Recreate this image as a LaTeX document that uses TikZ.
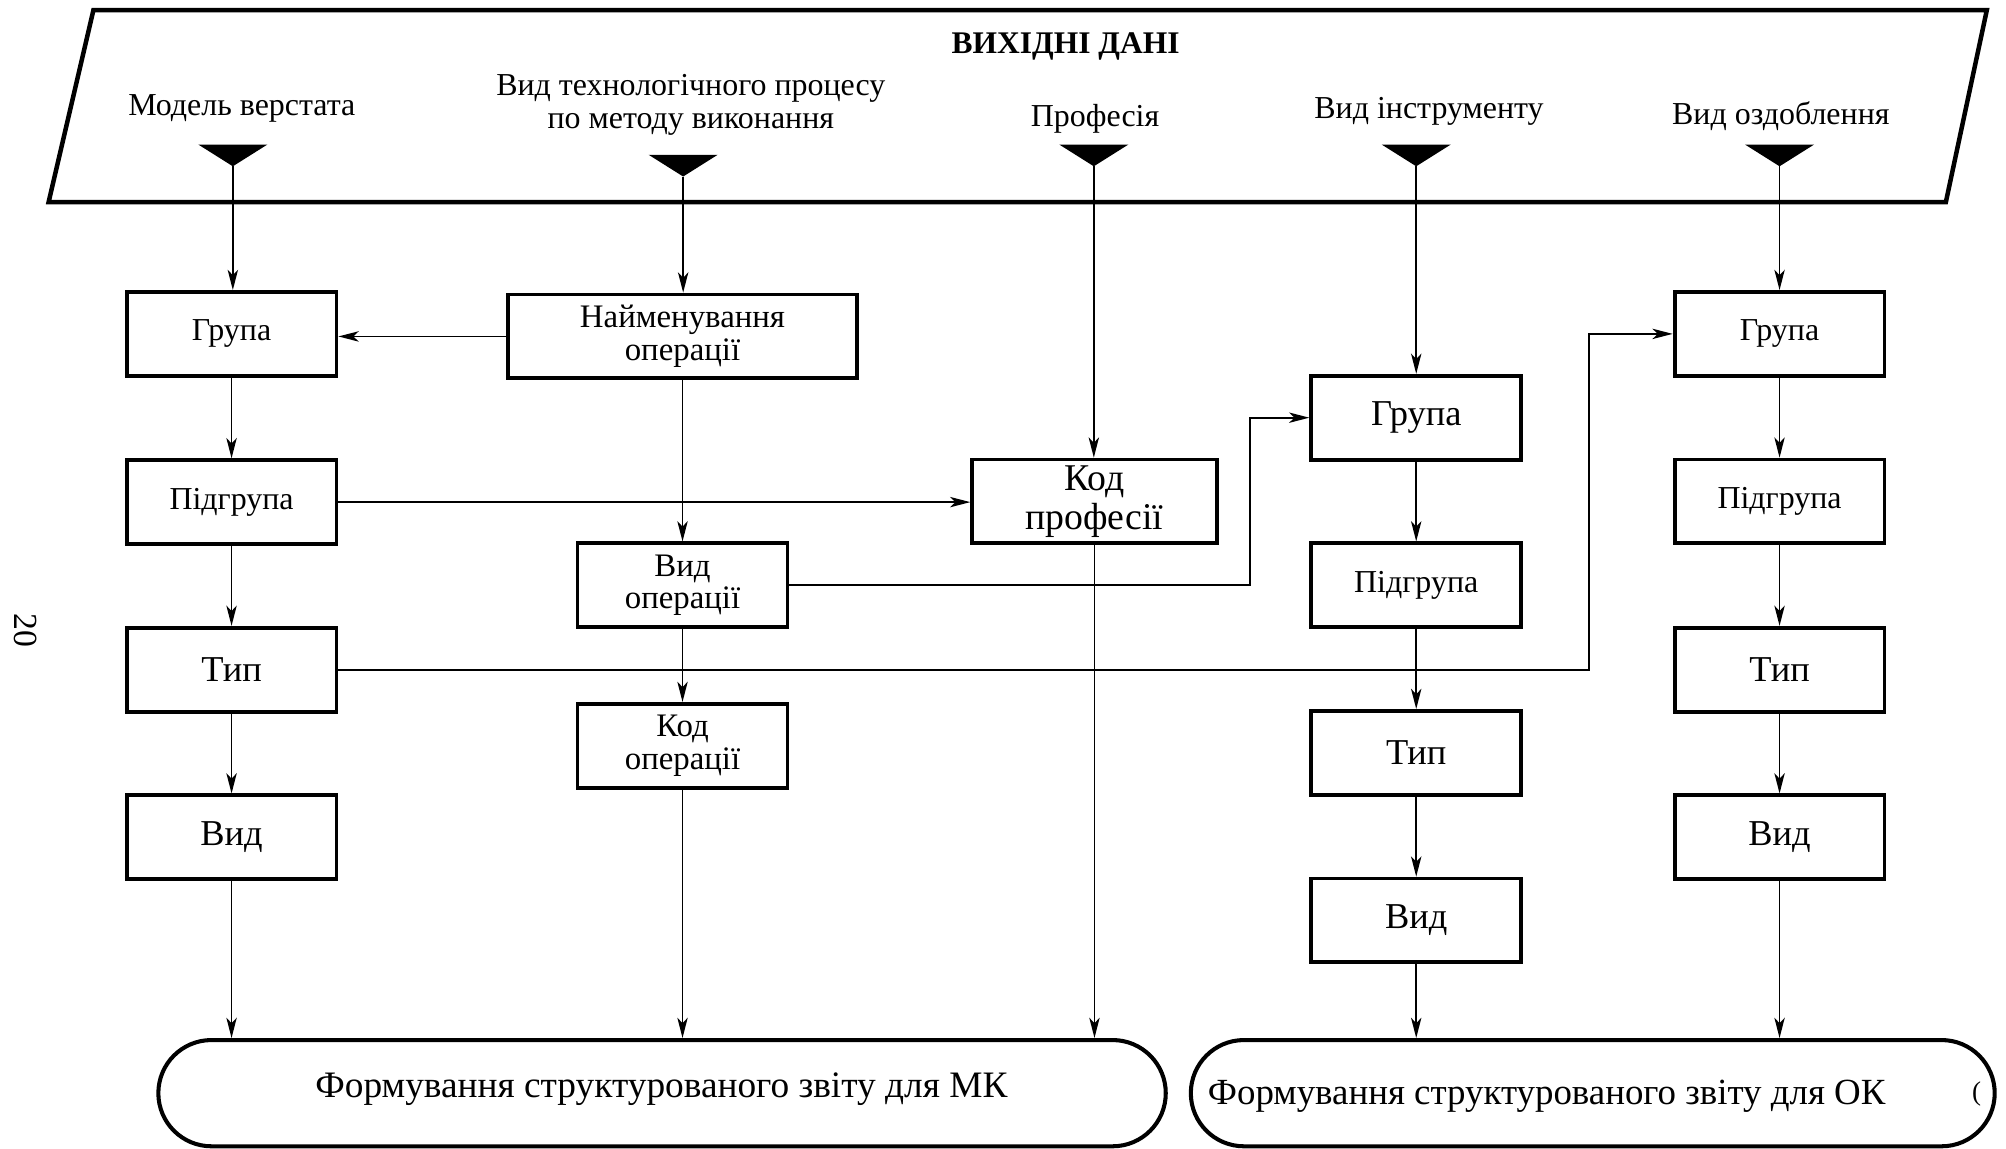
\documentclass[tikz,border=0pt]{standalone}
\usepackage{fontspec}
\setmainfont{Liberation Serif}
\usetikzlibrary{arrows.meta}
\begin{document}
\begin{tikzpicture}[x=0.01cm,y=-0.01cm,
  every node/.style={font=\fontsize{7.1}{7.2}\selectfont,align=center,inner sep=0pt},
  blk/.style={draw,line width=0.85pt,minimum width=1.64cm,minimum height=0.655cm},
  big/.style={font=\fontsize{8.1}{8.8}\selectfont},
  rep/.style={draw,line width=0.9pt,rounded corners=0.415cm,minimum height=0.83cm},
  arr/.style={-{Stealth[length=4.5pt,width=2.3pt,inset=1.2pt]},line width=0.4pt}]
\useasboundingbox (0,0) rectangle (1568,898);
\draw[line width=1pt] (73,8) -- (1553,8) -- (1521,158) -- (38,158) -- cycle;
\node[font=\fontsize{7}{8}\selectfont\bfseries] (title) at (833,36) {ВИХІДНІ ДАНІ};
\node (lmod) at (189,85) {Модель верстата};
\node (lproc) at (540,82) {Вид технологічного процесу\\по методу виконання};
\node (lprof) at (856,93) {Професія};
\node (linstr) at (1117,87) {Вид інструменту};
\node (lozd) at (1392,91) {Вид оздоблення};
\foreach \n/\x/\y in {mod/182/113, proc/534/121, prof/855/113, instr/1107/113, ozd/1391/113}{
  \fill (\x-27,\y) -- (\x+27,\y) -- (\x,\y+17) -- cycle;
  \coordinate (t\n) at (\x,\y+17);
}
\node[blk] (gr1) at (181,261) {Група};
\node[blk] (pid1) at (181,392.5) {Підгрупа};
\node[blk,big] (tip1) at (181,523.5) {Тип};
\node[blk,big] (vid1) at (181,654.5) {Вид};
\node[blk,minimum width=2.73cm,font=\fontsize{7.3}{7.2}\selectfont] (naim) at (533.5,263) {Найменування\\операції};
\node[blk,font=\fontsize{7.3}{7.2}\selectfont] (vidop) at (533.5,457.5) {Вид\\операції};
\node[blk,font=\fontsize{7.3}{7.2}\selectfont] (kodop) at (533.5,583) {Код\\операції};
\node[blk,minimum width=1.91cm,font=\fontsize{8.4}{8.8}\selectfont] (kprof) at (855.5,392) {Код\\професії};
\node[blk,big] (gr4) at (1107,326.5) {Група};
\node[blk] (pid4) at (1107,457.5) {Підгрупа};
\node[blk,big] (tip4) at (1107,588.5) {Тип};
\node[blk,big] (vid4) at (1107,719.5) {Вид};
\node[blk] (gr5) at (1391,261) {Група};
\node[blk] (pid5) at (1391,392) {Підгрупа};
\node[blk,big] (tip5) at (1391,523.5) {Тип};
\node[blk,big] (vid5) at (1391,654.5) {Вид};
\node[rep,minimum width=7.87cm] (rep1) at (517.5,854.5) {};
\node[font=\fontsize{8.3}{9}\selectfont] (rep1txt) at (517,851) {Формування структурованого звіту для МК};
\node[rep,minimum width=6.28cm] (rep2) at (1245,854.5) {};
\node[font=\fontsize{8.2}{9}\selectfont] (rep2txt) at (1209,857) {Формування структурованого звіту для ОК};
\node[rotate=-90,font=\fontsize{7.5}{8}\selectfont] (pg) at (20,493) {20};
\node[font=\fontsize{6}{7}\selectfont] (frag) at (1545,855) {(};
\coordinate (bend4) at (977,0);
\coordinate (bend5) at (1242,0);
\draw[arr] (tmod) -- (tmod |- gr1.north);
\draw[arr] (gr1) -- (pid1);
\draw[arr] (pid1) -- (tip1);
\draw[arr] (tip1) -- (vid1);
\draw[arr] (vid1) -- (vid1 |- rep1.north);
\draw[arr] (tproc) -- (tproc |- naim.north);
\draw[arr] (naim.west) -- (naim.west -| gr1.east);
\draw[arr] (naim) -- (vidop);
\draw[arr] (vidop) -- (kodop);
\draw[arr] (kodop) -- (kodop |- rep1.north);
\draw[arr] (tprof) -- (tprof |- kprof.north);
\draw[arr] (pid1.east) -- (pid1.east -| kprof.west);
\draw[arr] (kprof) -- (kprof |- rep1.north);
\draw[arr] (vidop.east) -- (vidop.east -| bend4) |- (gr4.west);
\draw[arr] (tinstr) -- (tinstr |- gr4.north);
\draw[arr] (gr4) -- (pid4);
\draw[arr] (pid4) -- (tip4);
\draw[arr] (tip4) -- (vid4);
\draw[arr] (vid4) -- (vid4 |- rep2.north);
\draw[arr] (tip1.east) -- (tip1.east -| bend5) |- (gr5.west);
\draw[arr] (tozd) -- (tozd |- gr5.north);
\draw[arr] (gr5) -- (pid5);
\draw[arr] (pid5) -- (tip5);
\draw[arr] (tip5) -- (vid5);
\draw[arr] (vid5) -- (vid5 |- rep2.north);
\end{tikzpicture}
\end{document}
